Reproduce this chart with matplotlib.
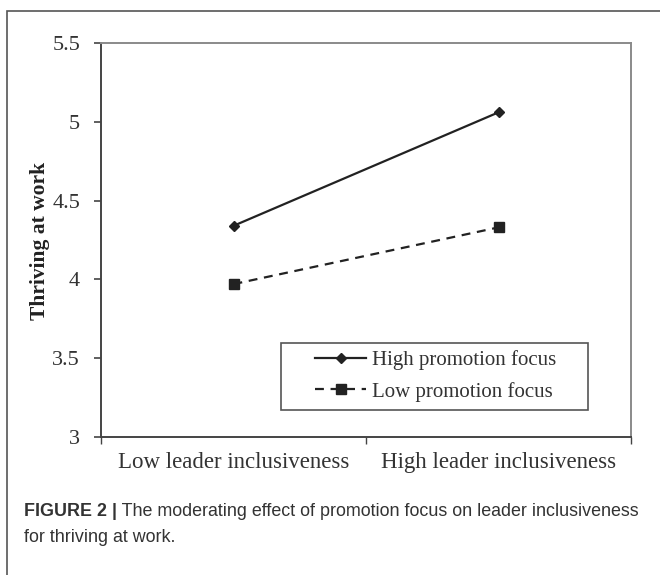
import matplotlib
matplotlib.use("Agg")
import matplotlib.pyplot as plt
from matplotlib.patches import Rectangle

categories = ["Low leader inclusiveness", "High leader inclusiveness"]
high_promotion = [4.34, 5.06]
low_promotion = [3.97, 4.33]
series_names = ["High promotion focus", "Low promotion focus"]
y_ticks = [3, 3.5, 4, 4.5, 5, 5.5]
y_ticklabels = ["3", "3.5", "4", "4.5", "5", "5.5"]
y_label = "Thriving at work"
caption_bold = "FIGURE 2 |"
caption_rest = " The moderating effect of promotion focus on leader inclusiveness"
caption_line2 = "for thriving at work."

W, H = 660, 575
fig = plt.figure(figsize=(W / 100, H / 100), dpi=100)
serif = ["Liberation Serif", "DejaVu Serif"]
sans = ["Liberation Sans", "DejaVu Sans"]

def px(x, y):
    return x / W, 1 - y / H

# outer frame (only left/top visible)
fig.patches.append(Rectangle(px(7, 590), 700 / W, (590 - 11) / H,
                             transform=fig.transFigure, fill=False,
                             edgecolor="#555555", linewidth=1.2))

left, right, top, bottom = 101, 631, 43, 437
ax = fig.add_axes([left / W, 1 - bottom / H, (right - left) / W, (bottom - top) / H])

x = list(range(len(categories)))
ax.plot(x, high_promotion, color="#222222", linestyle="-", linewidth=1.6,
        marker="D", markersize=5.5, label=series_names[0])
ax.plot(x, low_promotion, color="#222222", linestyle=(0, (4, 3)), linewidth=1.6,
        marker="s", markersize=6.5, label=series_names[1])

ax.set_xlim(-0.5, len(categories) - 0.5)
ax.set_ylim(3, 5.5)
ax.set_yticks(y_ticks)
ax.set_yticklabels(y_ticklabels, fontfamily=serif, fontsize=16, color="#333333")
ax.tick_params(axis="y", direction="out", length=5, width=1.2, color="#444444", pad=10)

ax.set_xticks([i - 0.5 for i in range(len(categories) + 1)])
ax.set_xticklabels([""] * (len(categories) + 1))
ax.tick_params(axis="x", which="major", direction="out", length=5, width=1.0, color="#444444")
ax.set_xticks(x, minor=True)
ax.set_xticklabels(categories, minor=True, fontfamily=serif, fontsize=16.5, color="#333333")
ax.tick_params(axis="x", which="minor", length=0, pad=11)

for s in ["left", "bottom"]:
    ax.spines[s].set_color("#444444")
    ax.spines[s].set_linewidth(1.4)
for s in ["top", "right"]:
    ax.spines[s].set_color("#8a8a8a")
    ax.spines[s].set_linewidth(1.4)

fig.text(*px(40, 241), y_label, rotation=90, ha="center", va="center",
         fontfamily=serif, fontweight="bold", fontsize=15.5, color="#222222")

# legend box
fig.patches.append(Rectangle(px(281, 410), (588 - 281) / W, (410 - 343) / H,
                             transform=fig.transFigure, fill=True, facecolor="white",
                             edgecolor="#555555", linewidth=1.2, zorder=3))
leg = fig.legend(*ax.get_legend_handles_labels(), loc="center left",
                 bbox_to_anchor=px(315, 376), frameon=False,
                 prop={"family": serif, "size": 15},
                 handlelength=2.45, handletextpad=0.3, borderpad=0, labelspacing=0.55,
                 borderaxespad=0)
leg.set_zorder(4)
for t in leg.get_texts():
    t.set_color("#333333")

cap_size = 12.9
t1 = fig.text(*px(24, 512), caption_bold, ha="left", va="center",
              fontfamily=sans, fontweight="bold", fontsize=cap_size, color="#333333")
fig.canvas.draw()
r = fig.canvas.get_renderer()
bb = t1.get_window_extent(r)
fig.text(bb.x1 / W, 1 - 512 / H, caption_rest, ha="left", va="center",
         fontfamily=sans, fontsize=cap_size, color="#333333")
fig.text(*px(24, 538), caption_line2, ha="left", va="center",
         fontfamily=sans, fontsize=cap_size, color="#333333")

fig.savefig("out.png", dpi=100, facecolor="white")
